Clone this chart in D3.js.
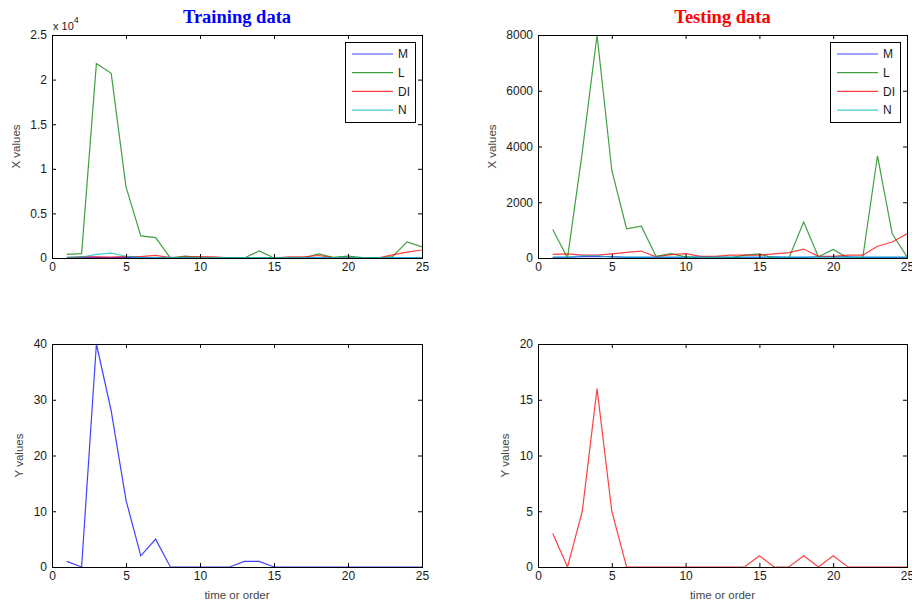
<!DOCTYPE html>
<html>
<head>
<meta charset="utf-8">
<script src="https://cdn.jsdelivr.net/npm/d3@7"></script>
<style>
  body { margin: 0; background: #fff; }
  svg { display: block; }
  .tick text { font-family: "Liberation Sans", Arial, sans-serif; font-size: 12px; fill: #1a1a1a; }
  .tick line { stroke: #000; }
  .axis-label { font-family: "Liberation Sans", Arial, sans-serif; font-size: 11.5px; fill: #444; }
  .title { font-family: "Liberation Serif", "DejaVu Serif", serif; font-size: 18.5px; font-weight: bold; }
  .legend text { font-family: "Liberation Sans", Arial, sans-serif; font-size: 12px; fill: #1a1a1a; }
</style>
</head>
<body>
<div id="chart"></div>
<script>
// --- Data ---
const steps = d3.range(1, 26);
const seriesNames = ["M", "L", "DI", "N"];
const seriesColors = ["#0000ff", "#008000", "#ff0000", "#00bfbf"];

const trainM  = [20, 40, 60, 40, 90, 60, 30, 70, 10, 10, 10, 10, 10, 10, 10, 10, 10, 10, 10, 10, 10, 10, 10, 10, 10];
const trainL  = [410, 490, 21800, 20700, 7970, 2470, 2280, 0, 220, 60, 0, 0, 0, 790, 0, 0, 0, 450, 80, 220, 40, 0, 150, 1800, 1240];
const trainDI = [40, 150, 120, 100, 150, 150, 300, 50, 100, 150, 130, 0, 0, 0, 0, 130, 130, 280, 50, 0, 0, 0, 350, 650, 900];
const trainN  = [100, 100, 400, 550, 200, 50, 40, 40, 40, 40, 40, 40, 40, 40, 40, 40, 40, 40, 40, 40, 40, 40, 40, 40, 40];

const testM  = [20, 20, 50, 50, 50, 20, 20, 20, 20, 20, 40, 40, 20, 20, 20, 40, 20, 20, 40, 40, 40, 20, 20, 20, 20];
const testL  = [1020, 0, 3800, 8000, 3150, 1050, 1140, 60, 160, 40, 0, 0, 0, 100, 150, 0, 0, 1290, 40, 310, 0, 0, 3660, 870, 40];
const testDI = [130, 150, 100, 100, 150, 200, 250, 40, 120, 160, 60, 60, 100, 100, 100, 150, 190, 320, 60, 60, 100, 100, 420, 575, 870];
const testN  = [30, 30, 80, 80, 30, 30, 30, 30, 30, 30, 30, 30, 30, 30, 30, 30, 30, 30, 30, 30, 30, 30, 30, 30, 30];

const trainY = [1, 0, 40, 28, 12, 2, 5, 0, 0, 0, 0, 0, 1, 1, 0, 0, 0, 0, 0, 0, 0, 0, 0, 0, 0];
const testY  = [3, 0, 5, 16, 5, 0, 0, 0, 0, 0, 0, 0, 0, 0, 1, 0, 0, 1, 0, 1, 0, 0, 0, 0, 0];

const xTicks = [0, 5, 10, 15, 20, 25];
const trainXTicks = [0, 5000, 10000, 15000, 20000, 25000];
const testXTicks = [0, 2000, 4000, 6000, 8000];
const trainYTicks = [0, 10, 20, 30, 40];
const testYTicks = [0, 5, 10, 15, 20];

// --- Panels ---
const panels = [
  { left: 52, right: 422, top: 35, bottom: 258, yMax: 25000, yTicks: trainXTicks,
    fmt: d => d3.format("~g")(d / 1e4), series: [trainM, trainL, trainDI, trainN],
    ylabel: "X values", ylabelX: 16, legend: true, title: "Training data", titleColor: "#0000ff", exponent: true },
  { left: 538, right: 907, top: 35, bottom: 258, yMax: 8000, yTicks: testXTicks,
    fmt: d3.format("d"), series: [testM, testL, testDI, testN],
    ylabel: "X values", ylabelX: 492, legend: true, title: "Testing data", titleColor: "#ff0000" },
  { left: 52, right: 422, top: 344, bottom: 567, yMax: 40, yTicks: trainYTicks,
    fmt: d3.format("d"), series: [trainY], colors: ["#0000ff"],
    ylabel: "Y values", ylabelX: 19, xlabel: "time or order" },
  { left: 538, right: 907, top: 344, bottom: 567, yMax: 20, yTicks: testYTicks,
    fmt: d3.format("d"), series: [testY], colors: ["#ff0000"],
    ylabel: "Y values", ylabelX: 505, xlabel: "time or order" }
];

const svg = d3.select("#chart").append("svg")
  .attr("width", 912)
  .attr("height", 603);

panels.forEach((p, i) => {
  const x = d3.scaleLinear().domain([0, 25]).range([p.left, p.right]);
  const y = d3.scaleLinear().domain([0, p.yMax]).range([p.bottom, p.top]);
  const g = svg.append("g");

  const clipId = "clip" + i;
  g.append("clipPath").attr("id", clipId)
    .append("rect")
    .attr("x", p.left).attr("y", p.top - 1)
    .attr("width", p.right - p.left).attr("height", p.bottom - p.top + 2);

  // lines
  const line = d3.line().x((d, j) => x(steps[j])).y(d => y(d));
  const colors = p.colors || seriesColors;
  p.series.forEach((s, k) => {
    g.append("path")
      .datum(s)
      .attr("clip-path", `url(#${clipId})`)
      .attr("fill", "none")
      .attr("stroke", colors[k])
      .attr("stroke-opacity", 0.75)
      .attr("stroke-width", 1.2)
      .attr("d", line);
  });

  // axes (ticks inward on all four sides)
  g.append("g")
    .attr("transform", `translate(0,${p.bottom})`)
    .call(d3.axisBottom(x).tickValues(xTicks).tickSizeInner(-4).tickSizeOuter(0).tickPadding(4))
    .call(a => a.select(".domain").remove());
  g.append("g")
    .attr("transform", `translate(0,${p.top})`)
    .call(d3.axisTop(x).tickValues(xTicks).tickSizeInner(-4).tickSizeOuter(0).tickFormat(""))
    .call(a => a.select(".domain").remove());
  g.append("g")
    .attr("transform", `translate(${p.left},0)`)
    .call(d3.axisLeft(y).tickValues(p.yTicks).tickFormat(p.fmt).tickSizeInner(-4).tickSizeOuter(0).tickPadding(5))
    .call(a => a.select(".domain").remove());
  g.append("g")
    .attr("transform", `translate(${p.right},0)`)
    .call(d3.axisRight(y).tickValues(p.yTicks).tickSizeInner(-4).tickSizeOuter(0).tickFormat(""))
    .call(a => a.select(".domain").remove());

  g.append("rect")
    .attr("x", p.left + 0.5).attr("y", p.top + 0.5)
    .attr("width", p.right - p.left).attr("height", p.bottom - p.top)
    .attr("fill", "none")
    .attr("stroke", "#000")
    .attr("stroke-width", 1);

  // axis labels
  g.append("text")
    .attr("class", "axis-label")
    .attr("transform", `translate(${p.ylabelX},${(p.top + p.bottom) / 2}) rotate(-90)`)
    .attr("text-anchor", "middle")
    .attr("dy", "0.35em")
    .text(p.ylabel);

  if (p.xlabel) {
    g.append("text")
      .attr("class", "axis-label")
      .attr("x", (p.left + p.right) / 2)
      .attr("y", 599)
      .attr("text-anchor", "middle")
      .text(p.xlabel);
  }

  if (p.title) {
    g.append("text")
      .attr("class", "title")
      .attr("x", (p.left + p.right) / 2)
      .attr("y", 23)
      .attr("text-anchor", "middle")
      .attr("fill", p.titleColor)
      .text(p.title);
  }

  if (p.exponent) {
    const t = g.append("text")
      .attr("class", "axis-label")
      .attr("x", p.left + 1)
      .attr("y", 30)
      .style("fill", "#1a1a1a")
      .style("font-size", "11px");
    t.append("tspan").text("x 10");
    t.append("tspan").attr("dy", -7).style("font-size", "9px").text("4");
  }

  if (p.legend) {
    const lx = p.right - 77, ly = p.top + 7;
    const lg = g.append("g").attr("class", "legend");
    lg.append("rect")
      .attr("x", lx + 0.5).attr("y", ly + 0.5)
      .attr("width", 70).attr("height", 80)
      .attr("fill", "#fff")
      .attr("stroke", "#000");
    seriesNames.forEach((name, k) => {
      const ry = ly + 12 + k * 18.7;
      lg.append("line")
        .attr("x1", lx + 7).attr("x2", lx + 48)
        .attr("y1", ry).attr("y2", ry)
        .attr("stroke", seriesColors[k])
        .attr("stroke-opacity", 0.75)
        .attr("stroke-width", 1.2);
      lg.append("text")
        .attr("x", lx + 53).attr("y", ry)
        .attr("dy", "0.36em")
        .text(name);
    });
  }
});
</script>
</body>
</html>
